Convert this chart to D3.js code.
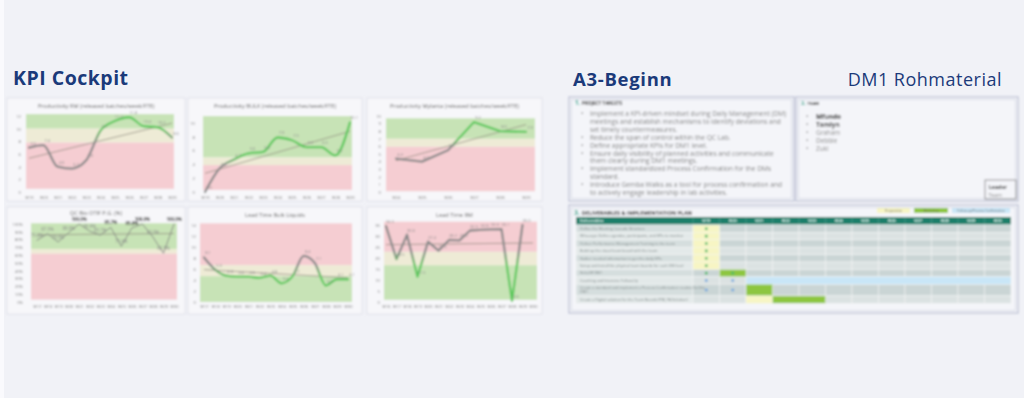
<!DOCTYPE html>
<html><head><meta charset="utf-8">
<script src="https://cdn.jsdelivr.net/npm/d3@7"></script>
<style>html,body{margin:0;padding:0;background:#f1f2f7;} svg{display:block;font-family:'Open Sans',sans-serif;}</style>
</head><body><script>
// ---------- DATA ----------
const rmWeeks = ["W19","W20","W21","W22","W23","W24","W25","W26","W27","W28","W29"];
const rmValues = [7.0,7.4,4.0,3.7,5.0,9.7,11.2,11.8,10.4,10.2,8.6];
const rmTicks = [0,2,4,6,8,10,12];
const rmBands = [["green",10,12.3],["beige",7.8,10],["red",0.5,7.8]];

const bulkWeeks = ["W19","W20","W21","W22","W23","W24","W25","W26","W27","W28","W29"];
const bulkValues = [0.0,3.4,4.7,5.6,5.8,7.9,7.5,6.5,6.5,5.3,10.1];
const bulkTicks = [0,2,4,6,8,10];
const bulkBands = [["green",5,11],["beige",3.9,5],["red",0.3,3.9]];

const mylWeeks = ["W24","W25","W26","W27","W28","W29"];
const mylValues = [4.4,4.0,5.5,9.2,8.0,7.9];
const mylTicks = [0,1,2,3,4,5,6,7,8,9,10];
const mylBands = [["green",7,9.7],["beige",5.95,7],["red",0.1,5.95]];

const otifWeeks = ["W17","W18","W19","W20","W21","W22","W23","W24","W25","W26","W27","W28","W29","W30"];
const otifValues = [79.2,87.5,76.9,88.9,100,90.9,85.7,95.7,71.4,95.0,100,83.3,62.5,100];
const otifTicks = [0,10,20,30,40,50,60,70,80,90,100];
const otifBands = [["green",68,101],["beige",62,68],["red",3,62]];

const ltBulkWeeks = ["W17","W18","W19","W20","W21","W22","W23","W24","W25","W26","W27","W28","W29","W30"];
const ltBulkValues = [8.1,5.9,4.8,4.6,4.6,4.4,4.8,3.4,4.7,8.4,7.1,3.0,4.1,4.1];
const ltBulkTicks = [0,2,4,6,8,10,12,14];
const ltBulkBands = [["red",6.7,14.3],["beige",4.7,6.7],["green",0,4.7]];

const ltRmWeeks = ["W16","W17","W18","W19","W20","W21","W22","W23","W24","W25","W26","W27","W28","W29","W30"];
const ltRmValues = [34.5,19.5,30.6,11.5,27.4,23.3,28.2,28.0,32.5,32.8,33.0,33.1,0.5,35.0,null];
const ltRmTicks = [0,5,10,15,20,25,30,35];
const ltRmBands = [["red",22.8,36.5],["beige",16.7,22.8],["green",1,16.7]];

const targetItems = [
  ["Implement a KPI-driven mindset during Daily Management (DM)","meetings and establish mechanisms to identify deviations and","set timely countermeasures."],
  ["Reduce the span of control within the QC Lab."],
  ["Define appropriate KPIs for DM1 level."],
  ["Ensure daily visibility of planned activities and communicate","them clearly during DM1 meetings."],
  ["Implement standardized Process Confirmation for the DMs","standard."],
  ["Introduce Gemba Walks as a tool for process confirmation and","to actively engage leadership in lab activities."]
];
const teamLeaders = ["Mfundo","Tamlyn"];
const teamMembers = ["Graham","Debbie","Zuki"];

const planWeeks = ["W19","W20","W21","W22","W23","W24","W25","W26","W27","W28","W29","W30"];
const planRows = [
  ["Define the Meeting Cascade Structure"],
  ["Who-says: Define agendas, participants, and KPIs to monitor"],
  ["Deliver Performance Management Training to the team"],
  ["Build up the visual team board with the team"],
  ["Gather needed information to get the daily KPIs"],
  ["Setup and install the physical team boards for each DM level"],
  ["Kick-Off DM1"],
  ["Coaching and Intensive Follow-Up"],
  ["Create a standard and implement a Process Confirmation routine for the","DM1"],
  ["Create a Digital solution for the Team Boards (PBI, PA Solution)"]
];
// [row, firstWeek, lastWeek, kind]
const planCells = [[0,0,0,"prep"],[1,0,0,"prep"],[2,0,0,"prep"],[3,0,0,"prep"],[4,0,0,"prep"],[5,0,0,"prep"],
  [6,1,1,"work"],[7,2,11,"follow"],[8,2,2,"work"],[9,2,2,"prep"],[9,3,4,"work"]];
// [row, week, kind]
const planMarks = [[0,0,"done"],[1,0,"done"],[2,0,"done"],[3,0,"done"],[4,0,"done"],[5,0,"done"],[6,0,"done"],[6,1,"done"],
  [7,0,"open"],[7,1,"open"],[8,0,"open"],[8,1,"open"]];
const planLegend = [["prep","Preparation"],["work","Workshop"],["follow","Follow-up/Process Confirmation"]];

// ---------- STYLE ----------
const bandColor = {green:"#c7e3b6", beige:"#eeebd6", red:"#f5cdd2"};
const cellColor = {prep:"#f7f5c4", work:"#8dc63f", follow:"#c9e6f7"};
const markColor = {done:"#4dbb6a", open:"#6da6de"};
const navy = "#1b3a7a";

const svg = d3.select("body").append("svg").attr("width",1024).attr("height",398);
const defs = svg.append("defs");
defs.append("filter").attr("id","blur").attr("x","-2%").attr("y","-2%").attr("width","104%").attr("height","104%")
  .append("feGaussianBlur").attr("stdDeviation",0.8);

svg.append("rect").attr("width",1024).attr("height",398).attr("fill","#f1f2f7");
svg.append("rect").attr("width",4).attr("height",398).attr("fill","#fafafd");

svg.append("text").attr("x",13).attr("y",85).attr("font-size",19.5).attr("letter-spacing",0.5).attr("font-weight",700).attr("fill",navy).text("KPI Cockpit");
svg.append("text").attr("x",573).attr("y",86).attr("font-size",18.5).attr("letter-spacing",0.7).attr("font-weight",700).attr("fill",navy).text("A3-Beginn");
svg.append("text").attr("x",1002).attr("y",86).attr("text-anchor","end").attr("font-size",18).attr("letter-spacing",0.5).attr("fill",navy).text("DM1 Rohmaterial");

// ---------- KPI CHARTS ----------
const kpi = svg.append("g").attr("filter","url(#blur)");
const pctFmt = d => d + "%";
const charts = [
  {title:"Productivity RM (released batches/week/FTE)", weeks:rmWeeks, values:rmValues, ticks:rmTicks, bands:rmBands,
   card:[7,98,185,201], xr:[29,172], br:[26,174], yr:[192,116], tickX:21, titleY:108, xLabY:196.5, good:"up", curve:d3.curveMonotoneX, lab:d=>d.toFixed(1)},
  {title:"Productivity BULK (released batches/week/FTE)", weeks:bulkWeeks, values:bulkValues, ticks:bulkTicks, bands:bulkBands,
   card:[188,98,362,201], xr:[205,350], br:[203,352], yr:[192,123], tickX:195, titleY:108, xLabY:196.5, good:"up", curve:d3.curveMonotoneX, lab:d=>d.toFixed(1)},
  {title:"Productivity Mylanta (released batches/week/FTE)", weeks:mylWeeks, values:mylValues, ticks:mylTicks, bands:mylBands,
   card:[367,98,542,201], xr:[396,526], br:[386,535], yr:[192,116], tickX:381, titleY:108, xLabY:196.5, good:"up", curve:d3.curveLinear, lab:d=>d.toFixed(1)},
  {title:"QC Bio OTIF P.G. (%)", weeks:otifWeeks, values:otifValues, ticks:otifTicks, bands:otifBands,
   card:[7,207,185,314], xr:[37,174], br:[31,177], yr:[302,224], tickX:23, titleY:214.5, xLabY:305.5, good:"flat", curve:d3.curveLinear, lab:d=>d.toFixed(1)+"%", fmt:pctFmt},
  {title:"Lead Time Bulk Liquids", weeks:ltBulkWeeks, values:ltBulkValues, ticks:ltBulkTicks, bands:ltBulkBands,
   card:[188,207,362,314], xr:[204,348], br:[200,352], yr:[302,225], tickX:196, titleY:217, xLabY:305.5, good:"down", curve:d3.curveMonotoneX, lab:d=>d.toFixed(1)},
  {title:"Lead Time RM", weeks:ltRmWeeks, values:ltRmValues, ticks:ltRmTicks, bands:ltRmBands,
   card:[367,207,542,314], xr:[386,533], br:[384,537], yr:[302,225], tickX:380, titleY:217, xLabY:305.5, good:"down", curve:d3.curveLinear, lab:d=>d.toFixed(1)}
];

charts.forEach((c,ci) => {
  const g = kpi.append("g");
  const [cx0,cy0,cx1,cy1] = c.card;
  g.append("rect").attr("x",cx0).attr("y",cy0).attr("width",cx1-cx0).attr("height",cy1-cy0)
    .attr("fill","#f7f7fa").attr("stroke","#dcdde6").attr("stroke-width",0.8);
  const x = d3.scalePoint().domain(c.weeks).range(c.xr);
  const y = d3.scaleLinear().domain([c.ticks[0], c.ticks[c.ticks.length-1]]).range(c.yr);
  c.bands.forEach(b => g.append("rect").attr("x",c.br[0]).attr("width",c.br[1]-c.br[0])
    .attr("y",y(b[2])).attr("height",y(b[1])-y(b[2])).attr("fill",bandColor[b[0]]));
  g.append("text").attr("x",(cx0+cx1)/2).attr("y",c.titleY).attr("text-anchor","middle")
    .attr("font-size",5.6).attr("fill","#666").text(c.title);
  const ya = d3.axisLeft(y).tickValues(c.ticks).tickSize(0).tickPadding(0);
  if (c.fmt) ya.tickFormat(c.fmt);
  const yg = g.append("g").attr("transform",`translate(${c.tickX},0)`).call(ya);
  yg.select(".domain").remove();
  yg.attr("font-family","Open Sans").attr("font-size",4.2).selectAll("text").attr("fill","#777");
  const xa = d3.axisBottom(x).tickSize(0).tickPadding(0);
  const xg = g.append("g").attr("transform",`translate(0,${c.xLabY})`).call(xa);
  xg.select(".domain").remove();
  xg.attr("font-family","Open Sans").attr("font-size",4.0).selectAll("text").attr("fill","#777");

  // trend (least squares over the plotted values)
  const pts = c.values.map((v,i)=>[i,v]).filter(d=>d[1]!=null);
  const mx = d3.mean(pts,d=>d[0]), my = d3.mean(pts,d=>d[1]);
  const slope = d3.sum(pts,d=>(d[0]-mx)*(d[1]-my))/d3.sum(pts,d=>(d[0]-mx)**2);
  const last = c.weeks.length-1;
  g.append("line").attr("x1",x(c.weeks[0])).attr("x2",x(c.weeks[last]))
    .attr("y1",y(my+slope*(0-mx))).attr("y2",y(my+slope*(last-mx)))
    .attr("stroke","#8f8a7e").attr("stroke-width",0.8);

  // line colour gradient
  let stroke = "#7d7d7d", sw = 0.9;
  if (c.good !== "flat") {
    const beige = c.bands.find(b=>b[0]==="beige");
    const gid = "lg"+ci;
    const gr = defs.append("linearGradient").attr("id",gid).attr("gradientUnits","userSpaceOnUse")
      .attr("x1",0).attr("x2",0);
    if (c.good==="up") gr.attr("y1",y(beige[1])).attr("y2",y(beige[2]));
    else gr.attr("y1",y(beige[2])).attr("y2",y(beige[1]));
    gr.append("stop").attr("offset",0).attr("stop-color","#8a8a8a");
    gr.append("stop").attr("offset",1).attr("stop-color","#5cc95c");
    stroke = `url(#${gid})`; sw = 2.3;
  }
  const line = d3.line().defined(d=>d!=null).x((d,i)=>x(c.weeks[i])).y(d=>y(d)).curve(c.curve);
  g.append("path").attr("d",line(c.values)).attr("fill","none").attr("stroke",stroke)
    .attr("stroke-width",sw).attr("stroke-linejoin","round").attr("stroke-linecap","round");

  c.values.forEach((v,i)=>{
    if (v==null) return;
    const strong = c.good==="flat" && v>=95;
    g.append("text").attr("x",x(c.weeks[i])+(c.good==="flat"?0:4)).attr("y",y(v)-3)
      .attr("text-anchor","middle").attr("font-size",c.good==="flat"?4.4:4)
      .attr("font-weight",strong?700:400)
      .attr("fill",strong?"#444":"#888").text(c.lab(v));
  });
});

// ---------- A3 ----------
const a3 = svg.append("g").attr("filter","url(#blur)");
function box(x0,y0,x1,y1){
  a3.append("rect").attr("x",x0).attr("y",y0).attr("width",x1-x0).attr("height",y1-y0)
    .attr("fill","#f4f5f9").attr("stroke","#c2c6d7").attr("stroke-width",1.4);
  a3.append("rect").attr("x",x0+2.5).attr("y",y0+2.5).attr("width",x1-x0-5).attr("height",y1-y0-5)
    .attr("fill","none").attr("stroke","#d3d6e3").attr("stroke-width",0.8);
}
box(569,97,794,201);
box(796,97,1018,201);
box(569,205,1018,313);

function header(x,y,num,label,size){
  const t = a3.append("text").attr("x",x).attr("y",y).attr("font-weight",700);
  t.append("tspan").attr("fill","#2aa58c").attr("font-size",size+1.5).text(num+" ");
  t.append("tspan").attr("fill","#333").attr("font-size",size).text(label);
}
header(575,105,"1.","PROJECT TARGETS",4.6);
header(801,105,"2.","TEAM",4.2);
header(574,215,"3.","DELIVERABLES & IMPLEMENTATION PLAN",5.4);

let ly = 116;
targetItems.forEach(item=>{
  item.forEach((ln,k)=>{
    if (k===0) a3.append("text").attr("x",581).attr("y",ly).attr("font-size",6.6).attr("fill","#888").text("•");
    a3.append("text").attr("x",590).attr("y",ly).attr("font-size",6.6).attr("fill","#808080").text(ln);
    ly += 7.9;
  });
});
teamLeaders.concat(teamMembers).forEach((n,i)=>{
  const yy = 119 + i*7.9;
  const lead = i < teamLeaders.length;
  a3.append("text").attr("x",806).attr("y",yy).attr("font-size",6.4).attr("fill","#888").text("•");
  a3.append("text").attr("x",816).attr("y",yy).attr("font-size",6.4).attr("font-weight",lead?700:400)
    .attr("fill",lead?"#333":"#8a8a8a").text(n);
});
a3.append("rect").attr("x",985).attr("y",180).attr("width",31).attr("height",19).attr("fill","none")
  .attr("stroke","#8a8a8a").attr("stroke-width",0.9);
a3.append("text").attr("x",988.5).attr("y",189).attr("font-size",5.4).attr("font-weight",700).attr("fill","#333").text("Leader");
a3.append("text").attr("x",988.5).attr("y",196.5).attr("font-size",5.2).attr("fill","#8a8a8a").text("Team");

// legend
const legX = [[877,910],[914,948],[952,1010]];
planLegend.forEach((l,i)=>{
  a3.append("rect").attr("x",legX[i][0]).attr("y",208).attr("width",legX[i][1]-legX[i][0]).attr("height",5).attr("fill",cellColor[l[0]]);
  a3.append("text").attr("x",(legX[i][0]+legX[i][1])/2).attr("y",212).attr("text-anchor","middle")
    .attr("font-size",3.2).attr("fill","#666").text(l[1]);
});

// table
const tx0 = 576, fcW = 117, tx1 = 1011;
const wx = d3.scaleBand().domain(planWeeks).range([tx0+fcW, tx1]);
a3.append("rect").attr("x",tx0).attr("y",217).attr("width",tx1-tx0).attr("height",7.6).attr("fill","#1c7f6b");
a3.append("text").attr("x",tx0+4).attr("y",222.3).attr("font-size",3.8).attr("font-weight",700).attr("fill","#e8f4f0").text("Deliverables");
planWeeks.forEach(w=>{
  a3.append("line").attr("x1",wx(w)).attr("x2",wx(w)).attr("y1",217).attr("y2",224.6).attr("stroke","#5fa898").attr("stroke-width",0.5);
  a3.append("text").attr("x",wx(w)+wx.bandwidth()/2).attr("y",222.3).attr("text-anchor","middle")
    .attr("font-size",3.8).attr("font-weight",700).attr("fill","#e8f4f0").text(w);
});
let ry = 225;
const rowY = [];
planRows.forEach((r,ri)=>{
  const h = 7.4 + (r.length-1)*4.3;
  rowY.push([ry,h]);
  const dark = ri%2===0;
  a3.append("rect").attr("x",tx0).attr("y",ry).attr("width",fcW).attr("height",h)
    .attr("fill",dark?"#d5dede":"#e3e9e9").attr("stroke","#f3f6f6").attr("stroke-width",0.6);
  planWeeks.forEach(w=>{
    a3.append("rect").attr("x",wx(w)).attr("y",ry).attr("width",wx.bandwidth()).attr("height",h)
      .attr("fill",dark?"#cad5d5":"#dbe2e2").attr("stroke","#f3f6f6").attr("stroke-width",0.6);
  });
  r.forEach((ln,k)=>{
    a3.append("text").attr("x",tx0+4).attr("y",ry+4.9+k*4.3-(r.length-1)*0.3).attr("font-size",3.7).attr("fill","#7d8585").text(ln);
  });
  ry += h;
});
planCells.forEach(([ri,a,b,k])=>{
  const [yy,h] = rowY[ri];
  a3.append("rect").attr("x",wx(planWeeks[a])).attr("y",yy).attr("width",wx(planWeeks[b])+wx.bandwidth()-wx(planWeeks[a]))
    .attr("height",h).attr("fill",cellColor[k]).attr("stroke","#f3f6f6").attr("stroke-width",0.4);
});
planMarks.forEach(([ri,wi,k])=>{
  const [yy,h] = rowY[ri];
  a3.append("rect").attr("x",wx(planWeeks[wi])+wx.bandwidth()/2-1.3).attr("y",yy+h/2-1.3)
    .attr("width",2.6).attr("height",2.6).attr("rx",0.5).attr("fill",markColor[k]);
});
</script></body></html>
